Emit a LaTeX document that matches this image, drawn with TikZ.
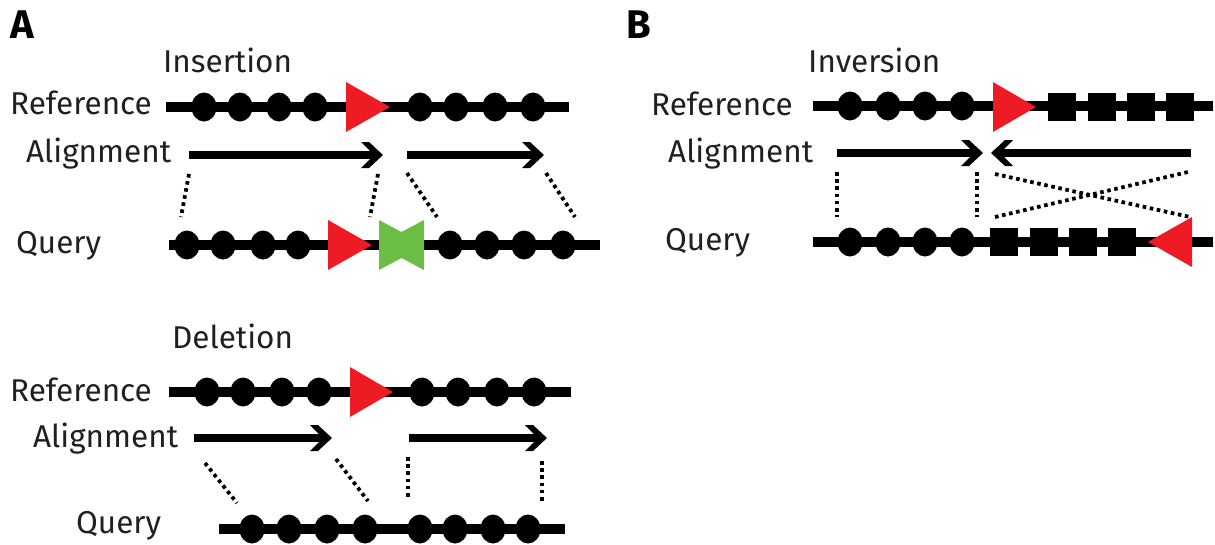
\documentclass[tikz,border=0pt]{standalone}
\usepackage{fontspec}
\setmainfont{Fira Sans}
\usetikzlibrary{shapes.geometric}
\definecolor{tri}{HTML}{ED1C24}
\definecolor{bow}{HTML}{6CBD45}
\definecolor{ink}{HTML}{231F20}
\newcommand\chevR[1]{\fill #1 -- ++(-14,-13) -- ++(-8,0) -- ++(13,13) -- ++(-13,13) -- ++(8,0) -- cycle;}
\newcommand\chevL[1]{\fill #1 -- ++(14,-13) -- ++(8,0) -- ++(-13,13) -- ++(13,13) -- ++(-8,0) -- cycle;}
\tikzset{
 lbl/.style={anchor=base west, inner sep=0pt, font=\fontsize{31.5}{36}\selectfont, text=ink},
 panel/.style={anchor=base west, inner sep=0pt, font=\fontsize{40}{44}\selectfont\bfseries, text=black},
 backbone/.style={line width=10.5pt, black},
 bead/.style={ellipse, fill=black, minimum width=25pt, minimum height=29pt, inner sep=0pt},
 sq/.style={rectangle, fill=black, minimum width=28pt, minimum height=28pt, inner sep=0pt},
 aln/.style={line width=8.5pt, black},
 dots/.style={line width=3.8pt, black, dash pattern=on 3.6pt off 3.6pt},
 redtri/.style={fill=tri},
}
\begin{document}
\begin{tikzpicture}[x=1pt,y=-1pt]
\useasboundingbox (0,0) rectangle (1215,544);
% ---------------- Panel A : Insertion ----------------
\node[panel] (pA) at (10,38) {A};
\node[lbl] (tIns) at (163,72) {Insertion};
\node[lbl] (iRefL) at (10,114) {Reference};
\node[lbl] (iAlnL) at (26,162) {Alignment};
\node[lbl] (iQryL) at (16,253) {Query};
\coordinate (iRa) at (166,107); \coordinate (iRb) at (569,107);
\draw[backbone] (iRa) -- (iRb);
\foreach \x [count=\i] in {204,240,279,315,420,456,495,533}
  \node[bead] (iR\i) at (\x,107) {};
\fill[redtri] (346,82) -- (390,107) -- (346,132) -- cycle;
% alignments
\coordinate (iA1s) at (189,155); \coordinate (iA1t) at (383,155);
\coordinate (iA2s) at (407,155); \coordinate (iA2t) at (544,155);
\draw[aln] (iA1s) -- ([xshift=-8pt]iA1t); \chevR{(iA1t)}
\draw[aln] (iA2s) -- ([xshift=-8pt]iA2t); \chevR{(iA2t)}
% dotted
\coordinate (iD1a) at (189,174); \coordinate (iD1b) at (181,217);
\coordinate (iD2a) at (378,174); \coordinate (iD2b) at (370,217);
\coordinate (iD3a) at (407,173); \coordinate (iD3b) at (437,217);
\coordinate (iD4a) at (546,173); \coordinate (iD4b) at (575,217);
\draw[dots] (iD1a) -- (iD1b);
\draw[dots] (iD2a) -- (iD2b);
\draw[dots] (iD3a) -- (iD3b);
\draw[dots] (iD4a) -- (iD4b);
% query
\coordinate (iQa) at (169,245); \coordinate (iQb) at (600,245);
\draw[backbone] (iQa) -- (iQb);
\foreach \x [count=\i] in {187,223,263,298,450,487,524,563}
  \node[bead] (iQ\i) at (\x,245) {};
\fill[redtri] (328,220) -- (372,245) -- (328,270) -- cycle;
\fill[bow] (379,220) -- (401.5,232) -- (424,220) -- (424,270) -- (401.5,258) -- (379,270) -- cycle;
% ---------------- Panel A : Deletion ----------------
\node[lbl] (tDel) at (172,348) {Deletion};
\node[lbl] (dRefL) at (10,401) {Reference};
\node[lbl] (dAlnL) at (33,447) {Alignment};
\node[lbl] (dQryL) at (76,533) {Query};
\coordinate (dRa) at (169,392); \coordinate (dRb) at (571,392);
\draw[backbone] (dRa) -- (dRb);
\foreach \x [count=\i] in {207,243,282,319,422,458,497,534}
  \node[bead] (dR\i) at (\x,392) {};
\fill[redtri] (350,367) -- (393,392) -- (350,417) -- cycle;
\coordinate (dA1s) at (194,438); \coordinate (dA1t) at (332,438);
\coordinate (dA2s) at (409,438); \coordinate (dA2t) at (547,438);
\draw[aln] (dA1s) -- ([xshift=-8pt]dA1t); \chevR{(dA1t)}
\draw[aln] (dA2s) -- ([xshift=-8pt]dA2t); \chevR{(dA2t)}
\coordinate (dD1a) at (205,463); \coordinate (dD1b) at (237,503);
\coordinate (dD2a) at (336,459); \coordinate (dD2b) at (368,501);
\coordinate (dD3a) at (408,457); \coordinate (dD3b) at (408,500);
\coordinate (dD4a) at (542,461); \coordinate (dD4b) at (542,503);
\draw[dots] (dD1a) -- (dD1b);
\draw[dots] (dD2a) -- (dD2b);
\draw[dots] (dD3a) -- (dD3b);
\draw[dots] (dD4a) -- (dD4b);
\coordinate (dQa) at (219,529); \coordinate (dQb) at (565,529);
\draw[backbone] (dQa) -- (dQb);
\foreach \x [count=\i] in {252,289,327,365,420,455,493,528}
  \node[bead] (dQ\i) at (\x,529) {};
% ---------------- Panel B : Inversion ----------------
\node[panel] (pB) at (626,38) {B};
\node[lbl] (tInv) at (808,72) {Inversion};
\node[lbl] (vRefL) at (651,115) {Reference};
\node[lbl] (vAlnL) at (668,162) {Alignment};
\node[lbl] (vQryL) at (665,250) {Query};
\coordinate (vRa) at (813,106); \coordinate (vRb) at (1213,106);
\draw[backbone] (vRa) -- (vRb);
\foreach \x [count=\i] in {850,888,925,962}
  \node[bead] (vR\i) at (\x,106) {};
\foreach \x [count=\i] in {1062,1102,1141,1180}
  \node[sq] (vS\i) at (\x,107) {};
\fill[redtri] (993,82) -- (1036,107) -- (993,132) -- cycle;
\coordinate (vA1s) at (837,153); \coordinate (vA1t) at (983,153);
\coordinate (vA2s) at (1191,153); \coordinate (vA2t) at (991,153);
\draw[aln] (vA1s) -- ([xshift=-8pt]vA1t); \chevR{(vA1t)}
\draw[aln] (vA2s) -- ([xshift=8pt]vA2t); \chevL{(vA2t)}
\coordinate (vD1a) at (837,172); \coordinate (vD1b) at (837,217);
\coordinate (vD2a) at (977,172); \coordinate (vD2b) at (977,217);
\coordinate (vD3a) at (995,174); \coordinate (vD3b) at (1190,217);
\coordinate (vD4a) at (995,217); \coordinate (vD4b) at (1188,172);
\draw[dots] (vD1a) -- (vD1b);
\draw[dots] (vD2a) -- (vD2b);
\draw[dots] (vD3a) -- (vD3b);
\draw[dots] (vD4a) -- (vD4b);
\coordinate (vQa) at (813,242); \coordinate (vQb) at (1213,242);
\draw[backbone] (vQa) -- (vQb);
\foreach \x [count=\i] in {850,888,925,962}
  \node[bead] (vQ\i) at (\x,242) {};
\foreach \x [count=\i] in {1004,1044,1083,1122}
  \node[sq] (vQS\i) at (\x,242) {};
\fill[redtri] (1192,217) -- (1148,242) -- (1192,267) -- cycle;
\end{tikzpicture}
\end{document}
